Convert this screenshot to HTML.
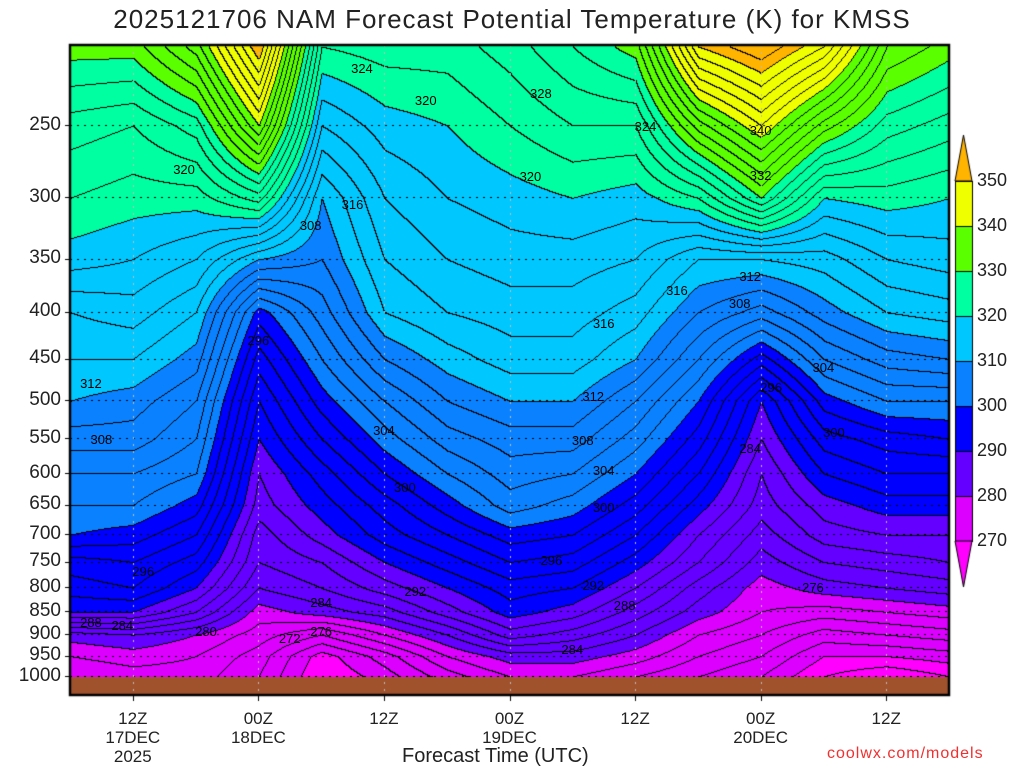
<!DOCTYPE html>
<html><head><meta charset="utf-8">
<style>
html,body{margin:0;padding:0;background:#fff;}
body{width:1024px;height:768px;position:relative;overflow:hidden;font-family:"Liberation Sans",sans-serif;}
.t{position:absolute;color:#222;white-space:nowrap;}
</style></head><body>
<div class="t" style="left:0;width:1024px;text-align:center;top:4px;font-size:26px;letter-spacing:1px;">2025121706 NAM Forecast Potential Temperature (K) for KMSS</div>
<canvas id="cv" width="1024" height="768" style="position:absolute;left:0;top:0"></canvas>
<div id="lab"></div>
<div class="t" style="left:402px;top:745px;font-size:20px;">Forecast Time (UTC)</div>
<div class="t" style="left:827px;top:745px;font-size:16px;color:#f03030;letter-spacing:1px;">coolwx.com/models</div>
<script>
const times=[0,6,12,18,24,30,36,42,48,54,60,66,72,78,84];
const levels=[1000,950,900,850,800,750,700,650,600,550,500,450,400,350,300,250,205];
const theta=[
[276,278,281,290,293,295,300,302,304,307,310,312,314,319,322,325,331],
[277,279,282,290,294,296,299,302,304,307,309,312,315,318,321,324,331],
[277,278,280,286,290,293,296,299,302,304,306,309,312,316,321,327,337],
[274,275,277,279,282,284,285,287,288,290,292,295,299,310,325,340,352],
[268,269,274,281,284,286,289,291,293,296,299,302,305,308,310,316,322],
[271,273,278,283,287,290,293,295,298,301,304,308,312,314,316,319,323],
[275,278,282,287,290,293,296,299,302,305,308,311,314,316,318,320,323],
[278,281,287,291,293,296,299,303,305,307,310,313,315,317,319,322,325],
[278,281,285,289,292,295,298,301,304,307,310,313,315,317,320,324,328],
[276,279,282,285,288,291,294,297,300,303,306,310,313,316,319,324,331],
[274,276,278,281,283,286,288,291,294,297,300,304,308,312,322,335,350],
[272,274,276,278,279,281,283,285,286,288,290,297,305,312,330,342,354],
[268,270,273,277,281,284,287,289,292,295,299,304,309,313,320,333,348],
[266,270,274,278,282,285,288,291,294,297,302,307,312,316,321,327,334],
[268,271,275,279,283,286,288,291,294,298,302,308,313,317,320,325,331]];
const bandEdges=[270,280,290,300,310,320,330,340,350];
const bandColors=['#ff00ff','#dc00ff','#6400ff','#0000ff','#0a82ff','#00c8ff','#00ffa0','#5aff00','#f0ff00','#ffb400'];
const pTicks=[1000,950,900,850,800,750,700,650,600,550,500,450,400,350,300,250];
const xTicks=[{h:6,l:['12Z','17DEC','2025']},{h:18,l:['00Z','18DEC']},{h:30,l:['12Z']},{h:42,l:['00Z','19DEC']},{h:54,l:['12Z']},{h:66,l:['00Z','20DEC']},{h:78,l:['12Z']}];
const cbarTicks=[350,340,330,320,310,300,290,280,270];
const labelHours=[27.9,34,45,55,66,66,10.9,27,23,44,58,51,65,64,18,67,72,2,3,30,50,49,51,32,51,46,65,73,7,33,50,53,71,24,2,5,13,24,21,48];
const labelPres=[217,235,231,251,254,284,280,306,322,285,379,412,366,392,430,484,461,480,552,540,496,553,597,623,655,749,565,543,770,810,796,838,801,832,875,882,895,895,911,937];
const labelText=['324','320','328','324','340','332','320','316','308','320','316','316','312','308','296','296','304','312','308','304','312','308','304','300','300','296','284','300','296','292','292','288','276','284','288','284','280','276','272','284'];
const X0=70,X1=949,Y0=45,Y1=695;
const xs=h=>X0+(h/84)*(X1-X0);
const ys=p=>676-397.5*Math.log(1000/p);
const lnl=levels.map(p=>Math.log(p));
function val(h,p){
  let ti=Math.min(Math.max(h/6,0),13.9999);let i=Math.floor(ti),ft=ti-i;
  const lp=Math.log(p);let j=0;
  while(j<levels.length-2&&lp<lnl[j+1])j++;
  let fp=(lnl[j]-lp)/(lnl[j]-lnl[j+1]);fp=Math.min(Math.max(fp,0),1);
  const a=theta[i][j]*(1-fp)+theta[i][j+1]*fp;
  const b=theta[i+1][j]*(1-fp)+theta[i+1][j+1]*fp;
  return a*(1-ft)+b*ft;
}
function hex(c){return [parseInt(c.substr(1,2),16),parseInt(c.substr(3,2),16),parseInt(c.substr(5,2),16)];}
const rgb=bandColors.map(hex);
const cv=document.getElementById('cv');const ctx=cv.getContext('2d');
const W=X1-X0,H=Y1-Y0;
const img=ctx.createImageData(W,H);
const grid=new Float32Array(W*H);
for(let y=0;y<H;y++){const p=1000*Math.exp(-(676-(Y0+y))/397.5);
  for(let x=0;x<W;x++){grid[y*W+x]=val((x/W)*84,p);}}
for(let y=0;y<H;y++)for(let x=0;x<W;x++){
  const v=grid[y*W+x];let b=0;while(b<bandEdges.length&&v>=bandEdges[b])b++;
  let c=rgb[b];const k=Math.floor(v/2);
  if((x>0&&Math.floor(grid[y*W+x-1]/2)!==k)||(y>0&&Math.floor(grid[(y-1)*W+x]/2)!==k))c=[0,0,0];
  const o=(y*W+x)*4;img.data[o]=c[0];img.data[o+1]=c[1];img.data[o+2]=c[2];img.data[o+3]=255;}
ctx.putImageData(img,X0,Y0);
ctx.fillStyle='#a0522d';ctx.fillRect(X0,677,W,Y1-677);
ctx.setLineDash([2,5]);ctx.lineWidth=1;
ctx.strokeStyle='#000';
pTicks.forEach(p=>{const y=Math.round(ys(p))+0.5;ctx.beginPath();ctx.moveTo(X0,y);ctx.lineTo(X1,y);ctx.stroke();});
ctx.strokeStyle='#bbb';
xTicks.forEach(t=>{const x=Math.round(xs(t.h))+0.5;ctx.beginPath();ctx.moveTo(x,Y0);ctx.lineTo(x,Y1);ctx.stroke();});
ctx.setLineDash([]);
ctx.strokeStyle='#000';ctx.lineWidth=2.5;ctx.strokeRect(X0,Y0,W,H);
ctx.lineWidth=1;
pTicks.forEach(p=>{const y=Math.round(ys(p))+0.5;ctx.beginPath();ctx.moveTo(X0-5,y);ctx.lineTo(X0,y);ctx.stroke();});
xTicks.forEach(t=>{const x=Math.round(xs(t.h))+0.5;ctx.beginPath();ctx.moveTo(x,Y1);ctx.lineTo(x,Y1+6);ctx.stroke();});
const CX=955,CW=17,cTop=181,seg=45;
for(let k=0;k<8;k++){ctx.fillStyle=bandColors[8-k];ctx.fillRect(CX,cTop+k*seg,CW,seg);ctx.strokeRect(CX+0.5,cTop+k*seg+0.5,CW,seg);}
ctx.fillStyle=bandColors[9];ctx.beginPath();ctx.moveTo(CX,cTop);ctx.lineTo(CX+CW/2,135);ctx.lineTo(CX+CW,cTop);ctx.closePath();ctx.fill();ctx.stroke();
ctx.fillStyle=bandColors[0];const cb=cTop+8*seg;ctx.beginPath();ctx.moveTo(CX,cb);ctx.lineTo(CX+CW/2,587);ctx.lineTo(CX+CW,cb);ctx.closePath();ctx.fill();ctx.stroke();
const lab=document.getElementById('lab');
function addText(txt,x,y,fs,name,align,extra){const d=document.createElement('div');d.className='t';d.textContent=txt;
  d.style.fontSize=fs+'px';d.style.top=(y-fs*0.6)+'px';
  if(align==='right'){d.style.right=(1024-x)+'px';}else if(align==='center'){d.style.left=(x-100)+'px';d.style.width='200px';d.style.textAlign='center';}else d.style.left=x+'px';
  if(extra)Object.assign(d.style,extra);
  
  
  lab.appendChild(d);}
pTicks.forEach(p=>addText(String(p),61,ys(p),19,'y-tick-label','right'));
xTicks.forEach(t=>t.l.forEach((s,i)=>addText(s,xs(t.h),719+i*19,17,'x-tick-label','center')));
cbarTicks.forEach((v,i)=>addText(String(v),977,cTop+i*seg,18,'colorbar-tick-label','left'));
labelText.forEach((s,i)=>addText(s,xs(labelHours[i]),ys(labelPres[i]),13,'contour-label','center',{color:'#000'}));
</script>
</body></html>
